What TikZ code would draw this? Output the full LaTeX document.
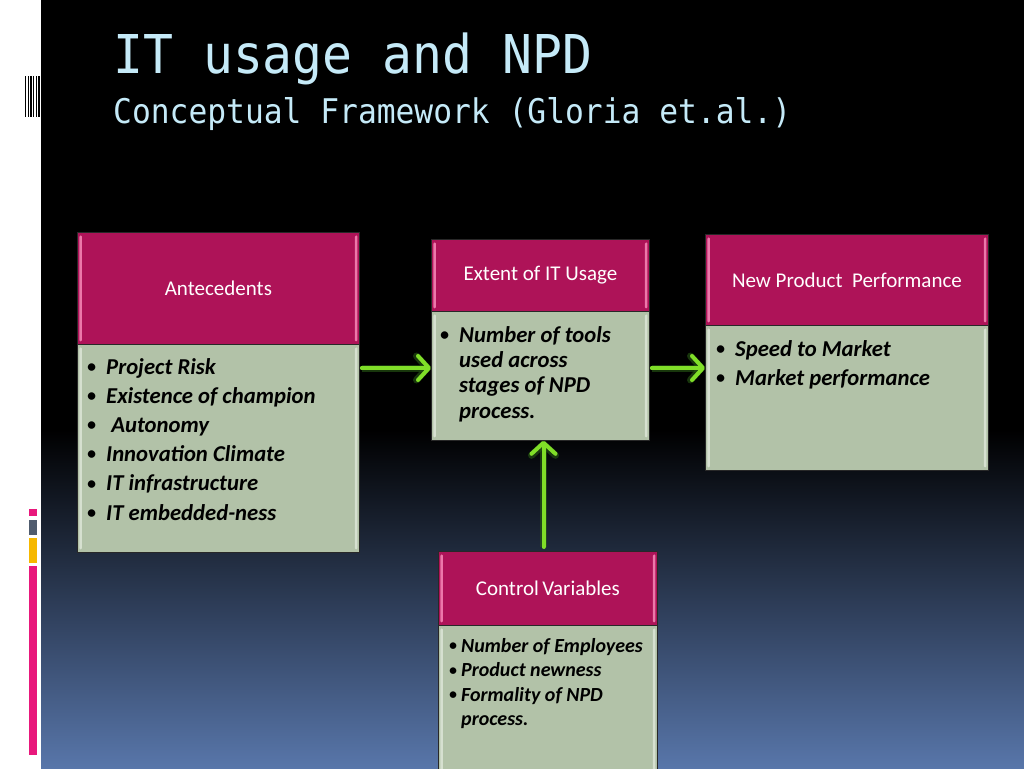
\documentclass[tikz,border=0pt]{standalone}
\usepackage{fontspec}
\setmainfont{Carlito}
\newfontfamily\monofam[FakeStretch=0.92]{DejaVu Sans Mono}
\newfontfamily\monofamw[FakeStretch=0.93]{DejaVu Sans Mono}
\usetikzlibrary{arrows.meta,calc}
\definecolor{hdrfill}{RGB}{174,19,88}
\definecolor{hdrhl}{RGB}{236,120,170}
\definecolor{bodyfill}{RGB}{178,194,168}
\definecolor{bodyhl}{RGB}{214,224,208}
\definecolor{boxline}{RGB}{40,40,40}
\definecolor{titlecol}{RGB}{197,234,248}
\definecolor{arrgreen}{RGB}{128,222,40}
\definecolor{arrglow}{RGB}{40,90,20}
\definecolor{bgblue}{RGB}{88,118,170}
\definecolor{barpink}{RGB}{232,24,124}
\definecolor{bargray}{RGB}{80,92,110}
\definecolor{barorange}{RGB}{246,184,0}
\newcommand{\hlstrips}[1]{%
  \fill[#1, rounded corners=1.2pt] ([xshift=2pt,yshift=-3pt]path picture bounding box.north west) rectangle ([xshift=4.5pt,yshift=3pt]path picture bounding box.south west);
  \fill[#1, rounded corners=1.2pt] ([xshift=-2pt,yshift=-3pt]path picture bounding box.north east) rectangle ([xshift=-4.5pt,yshift=3pt]path picture bounding box.south east);}
\newcommand{\smallbullet}{\raisebox{0.08em}{\scalebox{0.78}{\textbullet}}}
\newcommand{\itm}[1]{\makebox[19pt][l]{\smallbullet}#1}
\newcommand{\cnt}[1]{\hspace*{19pt}#1}
\newcommand{\itms}[1]{\makebox[12pt][l]{\smallbullet}#1}
\newcommand{\cnts}[1]{\hspace*{12pt}#1}
\tikzset{
  hdr/.style={draw=boxline, line width=0.8pt, fill=hdrfill, text=white,
    font=\fontsize{21}{25}\selectfont, anchor=north west, inner sep=0pt,
    path picture={\hlstrips{hdrhl}}},
  bodybox/.style={draw=boxline, line width=0.8pt, fill=bodyfill, anchor=north west,
    inner sep=0pt, path picture={\hlstrips{bodyhl}}},
  listtext/.style={anchor=north west, inner sep=0pt, align=left, text=black,
    font=\bfseries\itshape\fontsize{22.7}{#1}\selectfont},
  greenarrow/.style={line width=4pt, draw=arrgreen, line cap=round, line join=round,
    -{Straight Barb[length=11pt,width=24pt,round]},
    preaction={draw=arrglow, line width=7pt, opacity=0.6,
      -{Straight Barb[length=11pt,width=24pt,round]}}},
  titletext/.style={anchor=base west, inner sep=0pt, text=titlecol}
}
\begin{document}
\begin{tikzpicture}[x=1pt,y=-1pt]
\useasboundingbox (0,0) rectangle (1024,768);
% background
\fill[white] (0,0) rectangle (41,768);
\fill[black] (41,0) rectangle (1024,768);
\shade[top color=black, bottom color=bgblue] (41,430) rectangle (1024,768);
% barcode
\fill[black] (25,76) rectangle (26.2,117);
\fill[black] (27.8,76) rectangle (29,117);
\fill[black] (30.4,76) rectangle (31.6,117);
\fill[black] (33,76) rectangle (34.4,117);
\fill[black] (35.6,76) rectangle (36.6,117);
\fill[black] (37.6,76) rectangle (40,117);
% colour bars
\fill[barpink] (29,509) rectangle (37,516);
\fill[bargray] (29,519.5) rectangle (37,534.5);
\fill[barorange] (29,537.5) rectangle (37,562.5);
\fill[barpink] (29,565.5) rectangle (37,754.5);
% titles
\node[titletext, font=\monofamw\fontsize{53.5}{60}\selectfont] (title) at (113,73) {IT usage and NPD};
\node[titletext, font=\monofam\fontsize{34}{40}\selectfont] (subtitle) at (113,123) {Conceptual Framework (Gloria et.al.)};
% boxes
\node[hdr, minimum width=282pt, minimum height=112pt] (ah) at (77,232) {Antecedents};
\node[bodybox, minimum width=282pt, minimum height=208pt] (ab) at (77,344) {};
\node[hdr, minimum width=218pt, minimum height=72pt] (eh) at (431,239) {Extent of IT Usage};
\node[bodybox, minimum width=218pt, minimum height=129pt] (eb) at (431,311) {};
\node[hdr, minimum width=283pt, minimum height=91pt] (nh) at (705,234) {New Product\ \ Performance};
\node[bodybox, minimum width=283pt, minimum height=145pt] (nb) at (705,325) {};
\node[hdr, minimum width=219pt, minimum height=74pt] (ch) at (438,551) {Control\,Variables};
\node[bodybox, minimum width=219pt, minimum height=170pt] (cb) at (438,625) {};
% lists
\node[listtext=29.2] (al) at ([xshift=10pt,yshift=-14pt]ab.north west)
  {\itm{Project Risk}\\ \itm{Existence of champion}\\ \itm{\ Autonomy}\\ \itm{Innovation Climate}\\ \itm{IT infrastructure}\\ \itm{IT embedded-ness}};
\node[listtext=25.3] (el) at ([xshift=9pt,yshift=-15pt]eb.north west)
  {\itm{Number of tools}\\ \cnt{used across}\\ \cnt{stages of NPD}\\ \cnt{process.}};
\node[listtext=29] (nl) at ([xshift=11pt,yshift=-15pt]nb.north west)
  {\itm{Speed to Market}\\ \itm{Market performance}};
\node[listtext=24.5, font=\bfseries\itshape\fontsize{20}{24.5}\selectfont] (cl) at ([xshift=11pt,yshift=-13pt]cb.north west)
  {\itms{Number of Employees}\\ \itms{Product newness}\\ \itms{Formality of NPD}\\ \cnts{process.}};
% arrows
\coordinate (ay) at (0,368);
\coordinate (ax) at (543.5,0);
\draw[greenarrow, shorten <=2pt] (ab.east |- ay) -- (eb.west |- ay);
\draw[greenarrow, shorten <=2pt] (eb.east |- ay) -- (nb.west |- ay);
\draw[greenarrow, shorten <=4pt] (ch.north -| ax) -- (eb.south -| ax);
\end{tikzpicture}
\end{document}
